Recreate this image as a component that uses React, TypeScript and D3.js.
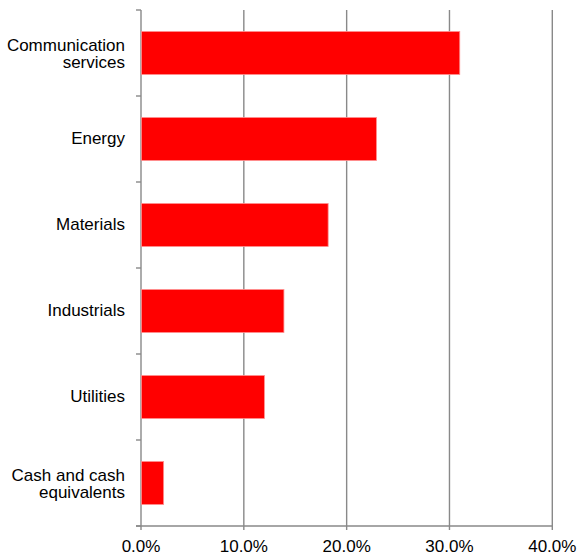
import React, { useEffect, useRef } from "react";
import * as d3 from "d3";

const categories: string[][] = [
  ["Communication", "services"],
  ["Energy"],
  ["Materials"],
  ["Industrials"],
  ["Utilities"],
  ["Cash and cash", "equivalents"],
];
const values: number[] = [31.0, 22.9, 18.2, 13.9, 12.0, 2.2];
const xTicks: number[] = [0, 10, 20, 30, 40];

const W = 579;
const H = 555;
const M = { left: 141, right: 27, top: 10, bottom: 29 };

export default function App() {
  const ref = useRef<SVGSVGElement>(null);
  useEffect(() => {
    const svg = d3.select(ref.current);
    svg.selectAll("*").remove();
    const x = d3.scaleLinear().domain([0, 40]).range([M.left, W - M.right + 0.3]);
    const keys = categories.map((_, i) => String(i));
    const y = d3
      .scaleBand<string>()
      .domain(keys)
      .range([M.top, H - M.bottom])
      .paddingInner(0.5)
      .paddingOuter(0.25);
    const step = y.step();
    const font = "'Liberation Sans', Arial, sans-serif";
    const grid = "#898989";

    // gridlines
    svg
      .append("g")
      .selectAll("line")
      .data(xTicks)
      .join("line")
      .attr("x1", (d) => x(d))
      .attr("x2", (d) => x(d))
      .attr("y1", M.top)
      .attr("y2", H - M.bottom + 4)
      .attr("stroke", grid)
      .attr("stroke-width", 1.4);

    // bottom axis line
    svg
      .append("line")
      .attr("x1", M.left - 5)
      .attr("x2", x(40))
      .attr("y1", H - M.bottom)
      .attr("y2", H - M.bottom)
      .attr("stroke", grid)
      .attr("stroke-width", 1.4);

    // category ticks
    const tickYs = d3.range(categories.length + 1).map((i) => M.top + i * step);
    svg
      .append("g")
      .selectAll("line")
      .data(tickYs)
      .join("line")
      .attr("x1", M.left - 5)
      .attr("x2", M.left)
      .attr("y1", (d) => d)
      .attr("y2", (d) => d)
      .attr("stroke", grid)
      .attr("stroke-width", 1.4);

    // bars
    svg
      .append("g")
      .selectAll("rect")
      .data(values)
      .join("rect")
      .attr("x", x(0) + 0.5)
      .attr("y", (_, i) => y(String(i))!)
      .attr("width", (d) => x(d) - x(0) - 0.5)
      .attr("height", y.bandwidth())
      .attr("fill", "#FF0000")
      .attr("stroke", "#FF9090")
      .attr("stroke-width", 0.8);

    // category labels
    const lab = svg
      .append("g")
      .selectAll("text")
      .data(categories)
      .join("text")
      .attr("x", 125)
      .attr("y", (_, i) => y(String(i))! + y.bandwidth() / 2)
      .attr("text-anchor", "end")
      .attr("font-family", font)
      .attr("font-size", 17)
      .attr("fill", "#000");
    lab.each(function (lines) {
      const t = d3.select(this);
      const n = lines.length;
      lines.forEach((ln, j) => {
        t.append("tspan")
          .attr("x", 125)
          .attr("dy", j === 0 ? `${0.32 - ((n - 1) * 1.0) / 2 + 0.05 * (n - 1)}em` : "1em")
          .text(ln);
      });
    });

    // x tick labels
    svg
      .append("g")
      .selectAll("text")
      .data(xTicks)
      .join("text")
      .attr("x", (d) => x(d))
      .attr("y", 552)
      .attr("text-anchor", "middle")
      .attr("font-family", font)
      .attr("font-size", 17)
      .attr("fill", "#000")
      .text((d) => d3.format(".1f")(d) + "%");
  }, []);
  return (
    <svg
      ref={ref}
      width={W}
      height={H}
      style={{ position: "absolute", left: 0, top: 0, background: "#fff" }}
    />
  );
}
